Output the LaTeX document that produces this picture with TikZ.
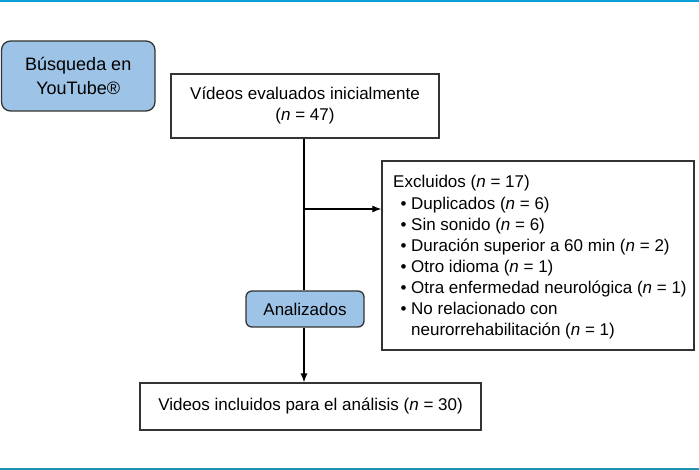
\documentclass[tikz,border=0pt]{standalone}
\usepackage{fontspec}
\setmainfont{Liberation Sans}
\usetikzlibrary{arrows.meta}
\definecolor{boxblue}{HTML}{9DC3E6}
\definecolor{edge}{HTML}{333333}
\definecolor{topline}{HTML}{0BA0D8}
\definecolor{botline}{HTML}{1E93B3}
\tikzset{
  fbox/.style={draw=edge, line width=1.3pt, rectangle, inner sep=0pt, align=center, font=\fontsize{17}{21}\selectfont},
  bluebox/.style={fbox, fill=boxblue, rounded corners=9pt},
  conn/.style={draw=black, line width=1.1pt},
  arr/.style={conn, -{Latex[length=9pt,width=7pt]}},
  exline/.style={anchor=base west, inner sep=0pt, font=\fontsize{17}{21}\selectfont},
}
\newcommand{\bul}{\makebox[18pt][l]{\hspace{7.5pt}•}}
\begin{document}
\begin{tikzpicture}[x=1pt,y=-1pt]
\useasboundingbox (0,0) rectangle (699,470);
\fill[topline] (0,0) rectangle (699,2);
\fill[botline] (0,468) rectangle (699,469.8);

\node[bluebox, minimum width=153.5pt, minimum height=70pt, font=\fontsize{18}{24}\selectfont] (busq) at (78.25,76) {Búsqueda en\\YouTube®};
\node[fbox, minimum width=268pt, minimum height=64pt] (vid) at (305,106) {Vídeos evaluados inicialmente\\(\textit{n} = 47)};
\node[fbox, minimum width=312pt, minimum height=189pt] (excl) at (538,255.5) {};
\node[bluebox, rounded corners=6pt, minimum width=118pt, minimum height=36pt] (anal) at (305,309) {Analizados};
\node[fbox, minimum width=341pt, minimum height=47pt] (incl) at (310.5,406.5) {Videos incluidos para el análisis (\textit{n} = 30)};

\node[exline] (e0) at (393,188) {Excluidos (\textit{n} = 17)};
\node[exline] (e1) at (393,209.1) {\bul Duplicados (\textit{n} = 6)};
\node[exline] (e2) at (393,230.3) {\bul Sin sonido (\textit{n} = 6)};
\node[exline] (e3) at (393,251.4) {\bul Duración superior a 60 min (\textit{n} = 2)};
\node[exline] (e4) at (393,272.6) {\bul Otro idioma (\textit{n} = 1)};
\node[exline] (e5) at (393,293.7) {\bul Otra enfermedad neurológica (\textit{n} = 1)};
\node[exline] (e6) at (393,314.9) {\bul No relacionado con};
\node[exline] (e7) at (393,336) {\hspace{18pt}neurorrehabilitación (\textit{n} = 1)};

\coordinate (br) at (304,209);
\draw[conn] (vid.south -| br) -- (anal.north -| br);
\draw[arr] (br) -- (excl.west |- br);
\draw[arr] (anal.south -| br) -- (incl.north -| br);
\end{tikzpicture}
\end{document}
